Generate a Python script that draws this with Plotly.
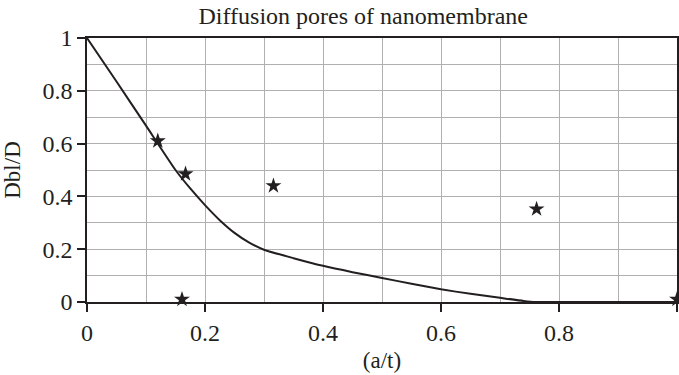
import plotly.graph_objects as go

# Model curve
curve_x = [0, 0.05, 0.10, 0.15, 0.175, 0.20, 0.225, 0.25, 0.275, 0.30, 0.35, 0.40, 0.45, 0.50, 0.55, 0.60, 0.65, 0.70, 0.74, 0.76, 0.80, 0.90, 1.00]
curve_y = [1.0, 0.835, 0.668, 0.50, 0.43, 0.367, 0.31, 0.262, 0.225, 0.198, 0.166, 0.137, 0.113, 0.091, 0.069, 0.048, 0.031, 0.016, 0.004, 0.0, 0.0, 0.0, 0.0]

# Measured points (stars)
star_x = [0.12, 0.167, 0.316, 0.762, 0.161, 1.0]
star_y = [0.61, 0.485, 0.44, 0.352, 0.01, 0.01]

title_text = "Diffusion pores of nanomembrane"
x_title = "(a/t)"
y_title = "Dbl/D"

ink = "#231f20"
font = "Liberation Serif, Times New Roman, serif"

fig = go.Figure()
fig.add_trace(go.Scatter(x=curve_x, y=curve_y, mode="lines",
                         line=dict(color=ink, width=2, shape="spline", smoothing=0.5),
                         showlegend=False))
fig.add_trace(go.Scatter(x=star_x, y=star_y, mode="markers",
                         marker=dict(symbol="star", size=12, color=ink),
                         cliponaxis=False, showlegend=False))

axis_common = dict(
    showline=True, linecolor=ink, linewidth=1.5, mirror=True,
    ticks="outside", ticklen=8, tickcolor=ink, tickwidth=1.5,
    showgrid=True, gridcolor="#b0b0b0", gridwidth=1,
    zeroline=False, automargin=False,
    tickfont=dict(family=font, size=24, color=ink),
    minor=dict(dtick=0.1, showgrid=True, gridcolor="#b0b0b0", gridwidth=1, ticks=""),
)

fig.update_layout(
    width=679, height=375,
    margin=dict(l=87, r=2, t=38, b=73),
    paper_bgcolor="white", plot_bgcolor="white",
    font=dict(family=font, color=ink),
    title=dict(text=title_text, x=0.535, xanchor="center", xref="container",
               y=0.958, yanchor="middle", font=dict(family=font, size=24, color=ink)),
    xaxis=dict(range=[0, 1], dtick=0.2, tick0=0,
               title=dict(text=x_title, font=dict(family=font, size=23, color=ink), standoff=7),
               **axis_common),
    yaxis=dict(range=[0, 1], dtick=0.2, tick0=0,
               title=dict(text=y_title, font=dict(family=font, size=23, color=ink), standoff=16),
               **axis_common),
)

fig.write_html(
    "out.html",
    config={"displayModeBar": False},
    post_script="document.body.style.margin='0';document.body.style.overflow='hidden';",
)
